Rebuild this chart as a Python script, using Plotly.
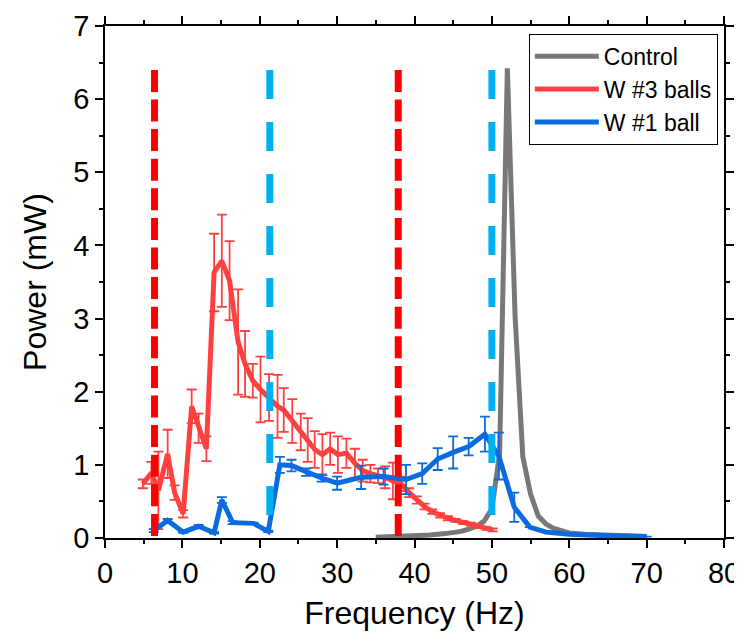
import plotly.graph_objects as go

# ---------------- data ----------------
ctrl_f = [35, 38, 40, 42, 44, 45, 46, 47, 48, 49, 50, 51, 52, 53, 54, 55, 56, 57, 58, 59, 60, 62, 65, 68, 70]
ctrl_p = [0.01, 0.02, 0.03, 0.04, 0.06, 0.07, 0.09, 0.12, 0.16, 0.23, 0.40, 1.15, 6.42, 3.03, 1.11, 0.60,
          0.30, 0.19, 0.13, 0.10, 0.07, 0.05, 0.035, 0.025, 0.02]

red_f = [4.9, 6.0, 6.9, 8.1, 9.0, 10.1, 11.2, 12.1, 13.1, 14.1, 15.1, 16.1, 17.2, 18.1, 19.1, 20.1,
         21.2, 22.3, 23.1, 24.2, 25.3, 26.2, 27.1, 28.1, 29.1, 30.1, 31.2, 32.3, 33.3, 34.3, 35.3,
         36.2, 37.2, 38.3, 39.3, 40.3, 41.3, 42.3, 43.3, 44.3, 45.3, 46.3, 47.3, 48.3, 49.3, 50.1]
red_p = [0.74, 0.89, 0.65, 1.15, 0.62, 0.33, 1.80, 1.50, 1.22, 3.63, 3.79, 3.52, 2.68, 2.38, 2.15, 2.03,
         1.92, 1.80, 1.75, 1.60, 1.45, 1.34, 1.21, 1.14, 1.22, 1.14, 1.16, 1.02, 0.92, 0.88, 0.85,
         0.83, 0.78, 0.74, 0.62, 0.52, 0.43, 0.36, 0.31, 0.27, 0.24, 0.21, 0.19, 0.16, 0.13, 0.11]
red_e = [0.06, 0.15, 0.53, 0.33, 0.10, 0.05, 0.23, 0.20, 0.17, 0.53, 0.63, 0.54, 0.72, 0.45, 0.23, 0.45,
         0.32, 0.43, 0.30, 0.30, 0.25, 0.30, 0.25, 0.28, 0.22, 0.25, 0.20, 0.20, 0.15, 0.12, 0.10,
         0.15, 0.25, 0.10, 0.06, 0.05, 0.04, 0.03, 0.03, 0.03, 0.02, 0.02, 0.02, 0.02, 0.02, 0.02]

blue_f = [6.3, 8.1, 10.1, 12.1, 14.1, 15.1, 16.5, 19.2, 21.1, 22.6, 24.1, 26.0, 28.0, 30.0, 33.1,
          36.0, 38.9, 41.0, 43.0, 45.0, 47.0, 49.1, 50.9, 52.9, 54.9, 57.0, 60.0, 65.0, 70.0]
blue_p = [0.10, 0.24, 0.08, 0.16, 0.07, 0.52, 0.21, 0.20, 0.09, 1.00, 0.99, 0.90, 0.82, 0.75, 0.83,
          0.84, 0.80, 0.88, 1.08, 1.17, 1.25, 1.42, 1.12, 0.42, 0.15, 0.08, 0.05, 0.03, 0.02]
blue_e = [0.02, 0.02, 0.01, 0.02, 0.01, 0.04, 0.02, 0.01, 0.01, 0.11, 0.08, 0.05, 0.05, 0.09, 0.16,
          0.11, 0.20, 0.14, 0.15, 0.22, 0.12, 0.24, 0.32, 0.20, 0, 0, 0, 0, 0]

red_vlines = [6.4, 37.9]
cyan_vlines = [21.3, 50.0]
vline_top = 6.4

names = ["Control", "W #3 balls", "W #1 ball"]

# ---------------- style ----------------
GRAY = "#787878"
RED = "#FF4040"
BLUE = "#0A6ADF"
DRED = "#FF0000"
CYAN = "#00B0F0"
FONT = "Liberation Sans, Arial, sans-serif"

fig = go.Figure()

fig.add_trace(go.Scatter(x=ctrl_f, y=ctrl_p, mode="lines", name=names[0],
                         line=dict(color=GRAY, width=5)))
fig.add_trace(go.Scatter(x=red_f, y=red_p, mode="lines", name=names[1],
                         line=dict(color=RED, width=5),
                         error_y=dict(type="data", array=red_e, color=RED, thickness=1.8, width=5)))
fig.add_trace(go.Scatter(x=blue_f, y=blue_p, mode="lines", name=names[2],
                         line=dict(color=BLUE, width=5),
                         error_y=dict(type="data", array=blue_e, color=BLUE, thickness=1.8, width=5)))

for xv in red_vlines:
    fig.add_trace(go.Scatter(x=[xv, xv], y=[vline_top, 0], mode="lines", showlegend=False,
                             hoverinfo="skip", line=dict(color=DRED, width=7, dash="22px,7.6px")))
for xv in cyan_vlines:
    fig.add_trace(go.Scatter(x=[xv, xv], y=[vline_top, 0], mode="lines", showlegend=False,
                             hoverinfo="skip", line=dict(color=CYAN, width=7, dash="29px,23px")))

axis_common = dict(
    showline=True, linecolor="black", linewidth=1.5, mirror="ticks",
    ticks="outside", ticklen=8, tickwidth=1.5, tickcolor="black",
    showgrid=False, zeroline=False, automargin=False,
    tickfont=dict(family=FONT, size=29, color="black"),
)

fig.update_xaxes(range=[0, 80], dtick=10, tick0=0,
                 minor=dict(dtick=5, ticks="outside", ticklen=4, tickwidth=1.5, tickcolor="black"),
                 title=dict(text="Frequency (Hz)", font=dict(family=FONT, size=32, color="black"), standoff=14),
                 **axis_common)
fig.update_yaxes(range=[0, 7], dtick=1, tick0=0,
                 minor=dict(dtick=0.5, ticks="outside", ticklen=4, tickwidth=1.5, tickcolor="black"),
                 title=dict(text="Power (mW)", font=dict(family=FONT, size=32, color="black"), standoff=17),
                 **axis_common)

# the page body adds an 8 px margin, so the figure is drawn 8 px smaller and shifted
fig.update_layout(
    width=734, height=631,
    margin=dict(l=97, r=18, t=18, b=101),
    paper_bgcolor="white", plot_bgcolor="white",
    showlegend=True,
    legend=dict(x=0.99, y=0.985, xanchor="right", yanchor="top",
                bgcolor="white", bordercolor="black", borderwidth=1,
                font=dict(family=FONT, size=23, color="black"),
                tracegroupgap=0, itemwidth=64),
)

fig.write_html("out.html")
